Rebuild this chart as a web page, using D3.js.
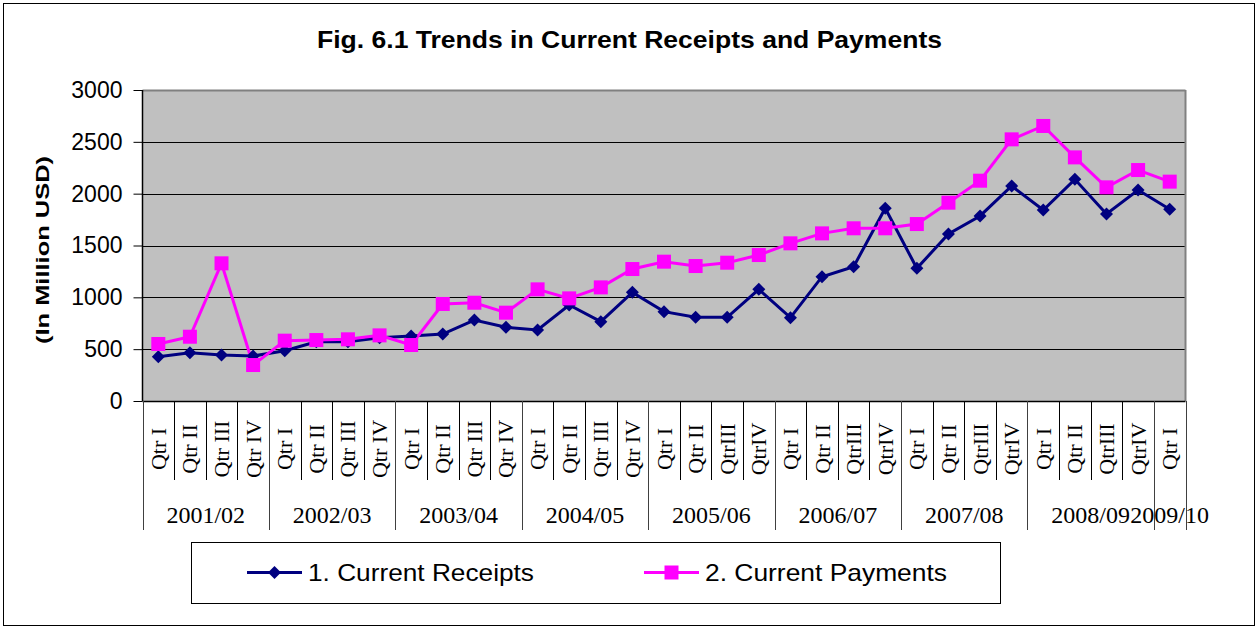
<!DOCTYPE html>
<html><head><meta charset="utf-8">
<script src="https://cdn.jsdelivr.net/npm/d3@7/dist/d3.min.js"></script>
<style>
body{margin:0;background:#fff;}
svg{display:block;}
</style></head>
<body>
<svg id="c" width="1257" height="628"></svg>
<script>
const years = ["2001/02","2002/03","2003/04","2004/05","2005/06","2006/07","2007/08","2008/09","2009/10"];
const quarters = [
 "Qtr I","Qtr II","Qtr III","Qtr IV",
 "Qtr I","Qtr II","Qtr III","Qtr IV",
 "Qtr I","Qtr II","Qtr III","Qtr IV",
 "Qtr I","Qtr II","Qtr III","Qtr IV",
 "Qtr I","Qtr II","QtrIII","QtrIV",
 "Qtr I","Qtr II","QtrIII","QtrIV",
 "Qtr I","Qtr II","QtrIII","QtrIV",
 "Qtr I","Qtr II","QtrIII","QtrIV",
 "Qtr I"];
const receipts = [427,466,444,434,485,572,572,611,627,646,781,711,685,926,765,1048,862,807,807,1077,804,1199,1296,1859,1280,1611,1785,2074,1842,2138,1804,2035,1849];
const payments = [550,620,1328,347,582,588,595,633,540,936,948,852,1077,990,1096,1273,1344,1302,1334,1408,1521,1617,1666,1666,1707,1913,2125,2524,2653,2350,2061,2228,2116];
const yTicks = [0,500,1000,1500,2000,2500,3000];
const seriesNames = ["1. Current Receipts","2. Current Payments"];

const svg = d3.select("#c");
const L=142.5, R=1185.5, T=90, B=401;
const idx = quarters.map((q,i)=>i);
const x = d3.scaleBand().domain(idx).range([L,R]);
const y = d3.scaleLinear().domain([0,3000]).range([B,T]);
const SANS = "Liberation Sans, Arial, sans-serif";
const SERIF = "Liberation Serif, Times New Roman, serif";

// outer border
svg.append("rect").attr("x",3.5).attr("y",3.5).attr("width",1251).attr("height",622)
  .attr("fill","#fff").attr("stroke","#000");

// title
svg.append("text").attr("x",317).attr("y",48)
  .attr("font-family",SANS).attr("font-weight","bold")
  .attr("font-size",24).attr("textLength",625).attr("lengthAdjust","spacingAndGlyphs")
  .text("Fig. 6.1 Trends in Current Receipts and Payments");

// plot background
svg.append("rect").attr("x",L).attr("y",T).attr("width",R-L).attr("height",B-T).attr("fill","#c0c0c0");

// gridlines
svg.append("g").selectAll("line").data(yTicks.filter(t=>t>0)).join("line")
  .attr("x1",L).attr("x2",R).attr("y1",d=>Math.round(y(d))+0.5).attr("y2",d=>Math.round(y(d))+0.5)
  .attr("stroke",d=>d===3000?"#808080":"#000").attr("stroke-width",d=>d===3000?2:1);
// right border
svg.append("line").attr("x1",R).attr("x2",R).attr("y1",T).attr("y2",B).attr("stroke","#808080").attr("stroke-width",2);

// y axis
const ya = svg.append("g").attr("transform",`translate(${L},0)`)
  .call(d3.axisLeft(y).tickValues(yTicks).tickSize(9).tickPadding(11).tickFormat(d3.format("d")));
ya.select(".domain").attr("stroke","#000").attr("stroke-width",1.5).attr("d",`M0,${T}V${B}`);
ya.selectAll(".tick line").attr("stroke","#000");
ya.selectAll(".tick text").attr("font-family",SANS).attr("font-size",23).attr("fill","#000");

// y title
svg.append("text").attr("transform","translate(49,250) rotate(-90)").attr("text-anchor","middle")
  .attr("font-family",SANS).attr("font-weight","bold").attr("font-size",19)
  .attr("textLength",188).attr("lengthAdjust","spacingAndGlyphs")
  .text("(In Million USD)");

// x axis baseline
svg.append("line").attr("x1",L).attr("x2",R).attr("y1",B+0.5).attr("y2",B+0.5).attr("stroke","#000").attr("stroke-width",1.5);
// category tick lines
const bounds = d3.range(quarters.length+1);
svg.append("g").selectAll("line").data(bounds).join("line")
  .attr("x1",i=>Math.round(L+i*x.step())+0.5).attr("x2",i=>Math.round(L+i*x.step())+0.5)
  .attr("y1",B).attr("y2",i=>(i%4===0||i===quarters.length)?530:480)
  .attr("stroke",i=>(i%4===0||i===quarters.length)?"#404040":"#000").attr("stroke-width",1);

// quarter labels
svg.append("g").selectAll("text").data(quarters).join("text")
  .attr("transform",(d,i)=>`translate(${x(i)+x.bandwidth()/2+7.5},449) rotate(-90)`)
  .attr("text-anchor","middle")
  .attr("font-family",SERIF).attr("font-size",22)
  .text(d=>d);

// year labels
svg.append("g").selectAll("text").data(years).join("text")
  .attr("x",(d,k)=>{const s=k*4, e=Math.min(k*4+4,quarters.length); return L+(s+e)/2*x.step();})
  .attr("y",523).attr("text-anchor","middle")
  .attr("font-family",SERIF).attr("font-size",24)
  .text(d=>d);

// lines
const cx = i=>x(i)+x.bandwidth()/2;
const line = d3.line().x((d,i)=>cx(i)).y(d=>y(d));
svg.append("path").datum(receipts).attr("d",line).attr("fill","none").attr("stroke","#000080").attr("stroke-width",3);
svg.append("path").datum(payments).attr("d",line).attr("fill","none").attr("stroke","#ff00ff").attr("stroke-width",3);

const diamond = "M0,-6.5L6.5,0L0,6.5L-6.5,0Z";
svg.append("g").selectAll("path").data(receipts).join("path")
  .attr("transform",(d,i)=>`translate(${cx(i)},${y(d)})`).attr("d",diamond).attr("fill","#000080");
svg.append("g").selectAll("rect").data(payments).join("rect")
  .attr("x",(d,i)=>cx(i)-7).attr("y",d=>y(d)-7).attr("width",14).attr("height",14).attr("fill","#ff00ff");

// legend
svg.append("rect").attr("x",191.5).attr("y",542.5).attr("width",809).attr("height",61).attr("fill","#fff").attr("stroke","#000");
const lg = [{x1:247,x2:302,tx:308,w:226,c:"#000080",m:"d"},{x1:644,x2:699,tx:705,w:242,c:"#ff00ff",m:"s"}];
lg.forEach((g,k)=>{
  svg.append("line").attr("x1",g.x1).attr("x2",g.x2).attr("y1",572.5).attr("y2",572.5).attr("stroke",g.c).attr("stroke-width",3);
  const mx=(g.x1+g.x2)/2;
  if(g.m==="d") svg.append("path").attr("transform",`translate(${mx},572.5)`).attr("d",diamond).attr("fill",g.c);
  else svg.append("rect").attr("x",mx-7).attr("y",565.5).attr("width",14).attr("height",14).attr("fill",g.c);
  svg.append("text").attr("x",g.tx).attr("y",581).attr("font-family",SANS)
    .attr("font-size",24).attr("textLength",g.w).attr("lengthAdjust","spacingAndGlyphs").text(seriesNames[k]);
});
</script>
</body></html>
